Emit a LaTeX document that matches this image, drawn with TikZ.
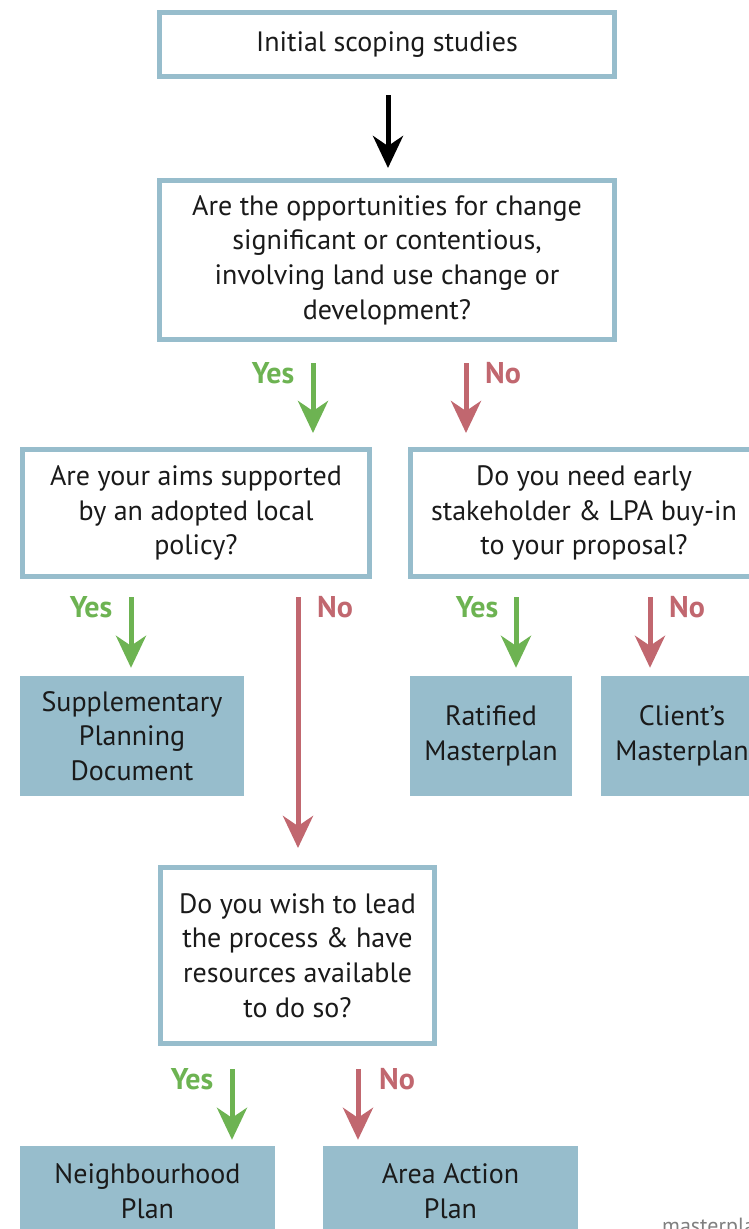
\documentclass[tikz,border=0pt]{standalone}
\usepackage{fontspec}
\setmainfont{PT Sans}
\usetikzlibrary{arrows.meta}
\definecolor{boxblue}{HTML}{97BDCC}
\definecolor{yesgreen}{HTML}{6DB352}
\definecolor{nored}{HTML}{C1676F}
\definecolor{txt}{HTML}{1A1A1A}
\tikzset{
  qbox/.style={draw=boxblue, line width=5pt, fill=white, align=center, text=txt,
    font=\fontsize{28}{34.6}\selectfont, inner sep=0pt},
  abox/.style={fill=boxblue, align=center, text=txt,
    font=\fontsize{28}{34.6}\selectfont, inner sep=0pt},
  arr/.style={line width=5pt, -{Stealth[length=32pt, width=30pt, inset=10pt]}},
  yesarr/.style={arr, draw=yesgreen},
  noarr/.style={arr, draw=nored},
  yeslbl/.style={text=yesgreen, font=\fontsize{30}{34}\selectfont\bfseries},
  nolbl/.style={text=nored, font=\fontsize{30}{34}\selectfont\bfseries},
}
\begin{document}
\begin{tikzpicture}[x=1pt, y=-1pt]
\useasboundingbox (0,0) rectangle (749,1229);
\clip (0,0) rectangle (749,1229);
% boxes
\node[qbox, minimum width=455pt, minimum height=64pt] (start) at (387,44.5) {Initial scoping studies};
\node[qbox, minimum width=455pt, minimum height=159pt] (q1) at (387,260)
  {Are the opportunities for change\\significant or contentious,\\involving land use change or\\development?};
\node[qbox, minimum width=347pt, minimum height=127pt] (q2) at (196,513)
  {Are your aims supported\\by an adopted local\\policy?};
\node[qbox, minimum width=347pt, minimum height=127pt] (q3) at (584,513)
  {Do you need early\\stakeholder \& LPA buy-in\\to your proposal?};
\node[abox, minimum width=224pt, minimum height=120pt] (spd) at (132,736)
  {Supplementary\\Planning\\Document};
\node[abox, minimum width=162pt, minimum height=120pt] (rat) at (491,736)
  {Ratified\\Masterplan};
\node[abox, minimum width=162pt, minimum height=120pt] (cli) at (682,736)
  {Client’s\\Masterplan};
\node[qbox, minimum width=274pt, minimum height=176pt] (q4) at (297.5,955.5)
  {Do you wish to lead\\the process \& have\\resources available\\to do so?};
\node[abox, minimum width=255pt, minimum height=90pt] (np) at (147.5,1191)
  {Neighbourhood\\Plan};
\node[abox, minimum width=255pt, minimum height=90pt] (aap) at (450.5,1191)
  {Area Action\\Plan};
% connectors
\draw[arr, draw=black, shorten <=16pt, shorten >=10pt] ([xshift=1pt]start.south) -- ([xshift=1pt]q1.north);
\draw[yesarr, shorten <=21pt, shorten >=14pt] ([xshift=-74pt]q1.south) -- ([xshift=-74pt]q1.south |- q2.north);
\draw[noarr, shorten <=21pt, shorten >=14pt] ([xshift=79pt]q1.south) -- ([xshift=79pt]q1.south |- q3.north);
\draw[yesarr, shorten <=18pt, shorten >=8pt] ([xshift=-65pt]q2.south) -- ([xshift=-65pt]q2.south |- spd.north);
\draw[noarr, shorten <=18pt, shorten >=17pt] ([xshift=102pt]q2.south) -- ([xshift=102pt]q2.south |- q4.north);
\draw[yesarr, shorten <=18pt, shorten >=8pt] ([xshift=-68pt]q3.south) -- ([xshift=-68pt]q3.south |- rat.north);
\draw[noarr, shorten <=18pt, shorten >=8pt] ([xshift=66pt]q3.south) -- ([xshift=66pt]q3.south |- cli.north);
\draw[yesarr, shorten <=23pt, shorten >=6pt] ([xshift=-65.5pt]q4.south) -- ([xshift=-65.5pt]q4.south |- np.north);
\draw[noarr, shorten <=23pt, shorten >=6pt] ([xshift=60.5pt]q4.south) -- ([xshift=60.5pt]q4.south |- aap.north);
% labels
\node[yeslbl] (y1) at (273,373) {Yes};
\node[nolbl] (n1) at (503,373) {No};
\node[yeslbl] (y2) at (91,607) {Yes};
\node[nolbl] (n2) at (335,607) {No};
\node[yeslbl] (y3) at (477,607) {Yes};
\node[nolbl] (n3) at (687,607) {No};
\node[yeslbl] (y4) at (192,1079) {Yes};
\node[nolbl] (n4) at (397,1079) {No};
\node[anchor=base west, text=gray, font=\fontsize{22}{24}\selectfont, inner sep=0pt] (src) at (662,1233) {masterplanning};
\end{tikzpicture}
\end{document}
